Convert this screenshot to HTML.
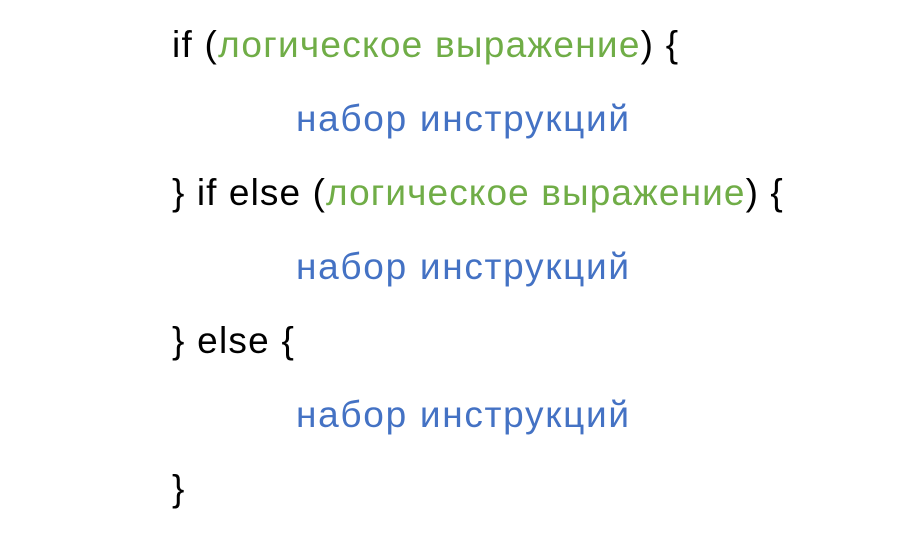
<!DOCTYPE html>
<html><head><meta charset="utf-8"><style>
html,body{margin:0;padding:0;background:#fff;width:916px;height:538px;overflow:hidden;}
.l{position:absolute;font-family:"Liberation Sans",sans-serif;font-size:37px;line-height:37px;letter-spacing:1.25px;white-space:pre;color:#000;}
.g{color:#70ad47}.b{color:#4472c4;letter-spacing:1.7px}
</style></head><body>
<div class="l" style="left:172px;top:26px">if (<span class="g">логическое выражение</span>) {</div>
<div class="l b" style="left:296px;top:100px">набор инструкций</div>
<div class="l" style="left:172px;top:174px;letter-spacing:1.1px">} if else (<span class="g">логическое выражение</span>) {</div>
<div class="l b" style="left:296px;top:248px">набор инструкций</div>
<div class="l" style="left:172px;top:322px">} else {</div>
<div class="l b" style="left:296px;top:396px">набор инструкций</div>
<div class="l" style="left:172px;top:470px">}</div>
</body></html>
